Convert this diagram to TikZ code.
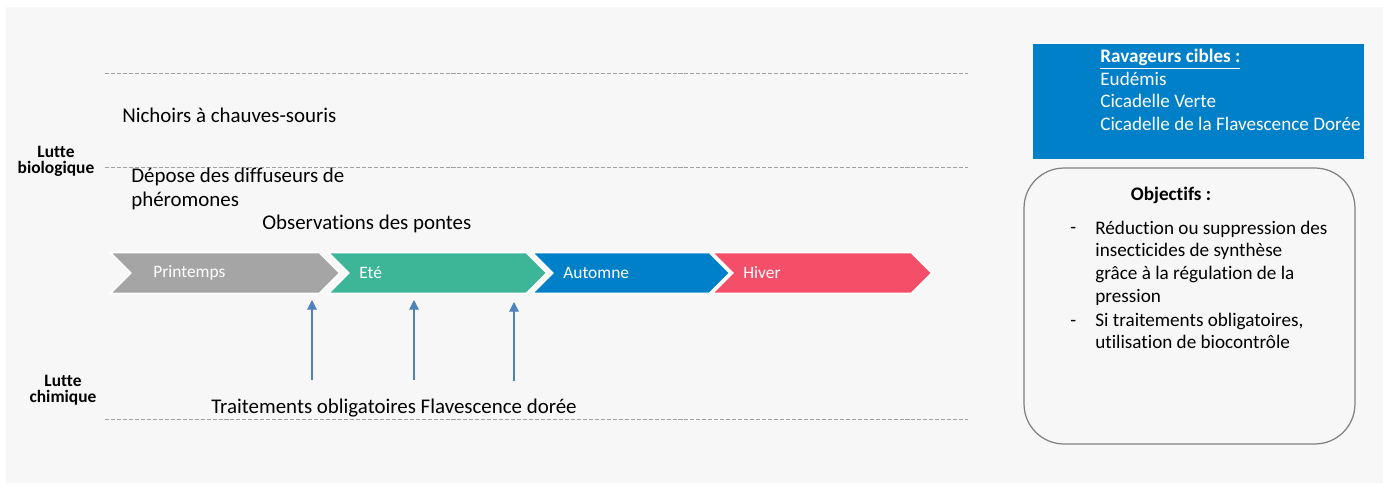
\documentclass[tikz,border=0pt]{standalone}
\usepackage{fontspec}
\setmainfont{Carlito}[Ligatures=CommonOff]
\usepackage{tikz}
\usetikzlibrary{shapes.symbols}
\usetikzlibrary{arrows.meta}
\usetikzlibrary{positioning}

\definecolor{fond}{HTML}{F7F7F7}
\definecolor{grisP}{HTML}{A5A5A5}
\definecolor{vertE}{HTML}{3DB698}
\definecolor{bleuA}{HTML}{0080C8}
\definecolor{rougeH}{HTML}{F54E69}
\definecolor{fleche}{HTML}{4F81BD}
\definecolor{trait}{HTML}{A0A0A0}
\definecolor{cadre}{HTML}{808080}

\begin{document}
\begin{tikzpicture}[x=0.02cm, y=-0.02cm]
			\tikzset{season/.style = {shape=signal, signal from=west, signal to=east,
					signal pointer angle=90, draw=white, line width=1pt,
					minimum height=0.82cm, inner sep=0pt}}
			\tikzset{seasontxt/.style = {anchor=west, inner sep=0pt, text=white,
					font=\fontsize{9.9}{11}\selectfont}}
			\tikzset{txt/.style = {anchor=west, inner sep=0pt, align=left,
					font=\fontsize{11.9}{13.6}\selectfont}}
			\tikzset{lutte/.style = {inner sep=0pt, align=center,
					font=\fontsize{9.9}{9.1}\bfseries\selectfont}}
			\tikzset{boxtxt/.style = {anchor=north west, inner sep=0pt, align=left,
					font=\fontsize{10.9}{13}\selectfont}}
			\tikzset{sep/.style = {trait, line width=0.5pt, dash pattern=on 2.3pt off 1.1pt}}
			\tikzset{edge/.style = {-{Triangle[length=5.5pt, width=5.5pt]}, fleche, line width=0.6pt}}
			
			% background
			\fill[white] (0,0) rectangle (1389,486);
			\fill[fond] (6,7) rectangle (1383,483);
			
			% separators
			\coordinate (s1a) at (105,73);  \coordinate (s1b) at (968,73);
			\coordinate (s2a) at (105,167); \coordinate (s2b) at (968,167);
			\coordinate (s3a) at (105,419); \coordinate (s3b) at (968,419);
			\draw[sep] (s1a) -- (s1b);
			\draw[sep] (s2a) -- (s2b);
			\draw[sep] (s3a) -- (s3b);
			
			% labels left
			\node[lutte] (bio) at (56,161) {Lutte\\biologique};
			\node[lutte] (chim) at (63,390) {Lutte\\chimique};
			
			% actions
			\node[txt] (nichoirs) at (122,115) {Nichoirs à chauves-souris};
			\node[txt] (depose) at (131,189) {Dépose des diffuseurs de\\phéromones};
			\node[txt] (pontes) at (262,224) {Observations des pontes};
			\node[txt] (traitements) at (211,408) {Traitements obligatoires Flavescence dorée};
			
			% seasons
			\node[season, fill=grisP, minimum width=4.6cm] (printemps) at (225,273) {};
			\node[season, fill=vertE, minimum width=4.38cm] (ete) at (437.5,273) {};
			\node[season, fill=bleuA, minimum width=3.96cm] (automne) at (631,273) {};
			\node[season, fill=rougeH, minimum width=4.4cm] (hiver) at (822,273) {};
			\node[seasontxt] (tprintemps) at (153,273) {Printemps};
			\node[seasontxt] (tete) at (359,273) {Eté};
			\node[seasontxt] (tautomne) at (563,273) {Automne};
			\node[seasontxt] (thiver) at (743,273) {Hiver};
			
			% treatments
			\coordinate (f1) at (312,380); \coordinate (g1) at (312,300);
			\coordinate (f2) at (414,380); \coordinate (g2) at (414,300);
			\coordinate (f3) at (514,381); \coordinate (g3) at (514,302);
			\draw[edge] (f1) -- (g1);
			\draw[edge] (f2) -- (g2);
			\draw[edge] (f3) -- (g3);
			
			% targets
			\node[fill=bleuA, minimum width=6.62cm, minimum height=2.3cm, inner sep=0pt]
				(cibles) at (1198.5,101.5) {};
			\node[boxtxt, text=white] (tcibles) at (1100,48.5)
				{\textbf{\underline{Ravageurs cibles :}}\\Eudémis\\Cicadelle Verte\\Cicadelle de la Flavescence Dorée};
			
			% objectives
			\node[draw=cadre, line width=0.7pt, rounded corners=0.8cm, minimum width=6.62cm,
				minimum height=5.52cm, inner sep=0pt] (objectifs) at (1189.5,306) {};
			\node[inner sep=0pt, font=\fontsize{10.9}{13}\bfseries\selectfont]
				(tobj) at (1171,195) {Objectifs :};
			\node[boxtxt] (obj1) at (1095,220.5)
				{Réduction ou suppression des\\insecticides de synthèse\\grâce à la régulation de la\\pression};
			\node[boxtxt] (obj2) at (1095,312.5)
				{Si traitements obligatoires,\\utilisation de biocontrôle};
			\node[boxtxt] (d1) at (1070,220.5) {\vphantom{Ré}-};
			\node[boxtxt] (d2) at (1070,312.5) {\vphantom{Si}-};
			
			\end{tikzpicture}
\end{document}
